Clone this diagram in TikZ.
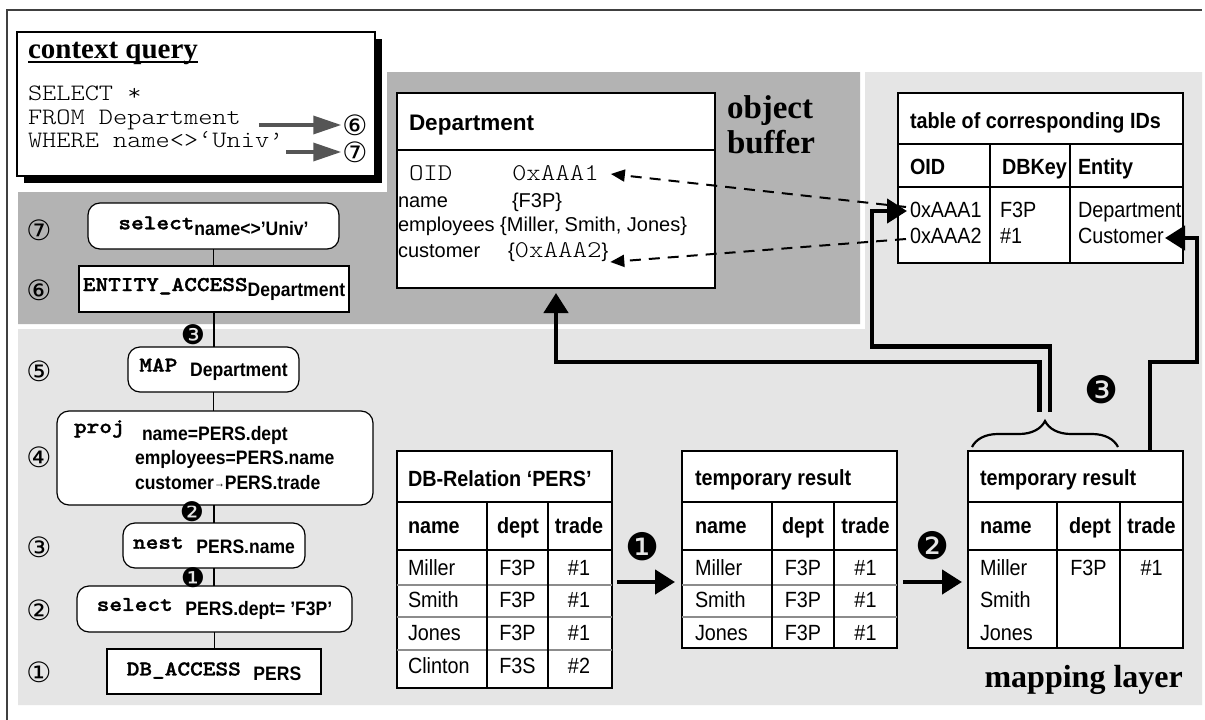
\documentclass[tikz,border=0pt]{standalone}
\usepackage{fontspec}
\usetikzlibrary{arrows.meta,decorations.pathreplacing,calc}
\newfontfamily\hv{Liberation Sans}
\newfontfamily\hvn[FakeStretch=0.9]{Liberation Sans}
\newfontfamily\tms{Liberation Serif}
\newfontfamily\cour[FakeStretch=1.15,BoldFont=lmmonolt10-bold.otf,BoldFeatures={FakeBold=1.5}]{lmmonolt10-regular.otf}
\newfontfamily\dv{DejaVu Sans}
\newcommand\fsz[1]{\fontsize{#1}{#1}\selectfont}
\definecolor{lgray}{HTML}{E5E5E5}
\definecolor{dgray}{HTML}{B3B3B3}
\definecolor{agray}{HTML}{555555}
\begin{document}
\begin{tikzpicture}[x=1pt,y=-1pt,
  t/.style={inner sep=0pt, outer sep=0pt, anchor=base west},
  tc/.style={inner sep=0pt, outer sep=0pt, anchor=base},
  frm/.style={draw, line width=1.3pt, fill=white, inner sep=0pt, outer sep=0pt, anchor=north west},
  opbox/.style={draw, line width=1.2pt, fill=white, inner sep=0pt, outer sep=0pt, rounded corners=12pt},
  rectbox/.style={draw, line width=1.2pt, fill=white, inner sep=0pt, outer sep=0pt},
  link/.style={line width=1.2pt},
  rowln/.style={line width=1.2pt, black!45},
  colln/.style={line width=1.2pt},
  fat/.style={line width=4.5pt, -{Triangle[length=20pt,width=24pt]}},
  dsh/.style={line width=2pt, dash pattern=on 11pt off 8pt, -{Triangle[length=14pt,width=12pt]}},
  qarr/.style={line width=3.5pt, agray, -{Triangle[length=28pt,width=18pt]}},
  num/.style={inner sep=0pt, font=\dv\fsz{28}},
  bnum/.style={inner sep=0pt, font=\dv\fsz{27}},
  bignum/.style={inner sep=0pt, font=\dv\fsz{38}},
  tb/.style={font=\hvn\bfseries\fsz{22}},
  tr/.style={font=\hvn\fsz{22}},
]
\useasboundingbox (0,0) rectangle (1205,720);
\fill[white] (0,0) rectangle (1205,720);
% layers
\fill[lgray] (18,329) -- (865,329) -- (865,72) -- (1202,72) -- (1202,705) -- (18,705) -- cycle;
\fill[dgray] (18,192) -- (387,192) -- (387,72) -- (860,72) -- (860,324) -- (18,324) -- cycle;
\draw[line width=1.3pt, black!75] (7,725) -- (7,10) -- (1202,10);

% context query
\fill[black] (24,39) rectangle (382,183);
\node[frm, minimum width=358pt, minimum height=144pt] (ctx) at (17,32) {};
\node[t] (ctitle) at (28,58) {\tms\bfseries\fsz{29}context query};
\draw[line width=1.3pt] ([yshift=-4pt]ctitle.base west) -- ([yshift=-4pt]ctitle.base east);
\node[t] (q1) at (28,100) {\cour\fsz{23.5}SELECT *};
\node[t] (q2) at (28,124) {\cour\fsz{23.5}FROM Department};
\node[t] (q3) at (28,147) {\cour\fsz{23.5}WHERE name<>‘Univ’};
\node[num] (c6) at (355,125) {⑥};
\node[num] (c7) at (355,152) {⑦};
\draw[qarr, shorten >=1pt] ([xshift=18pt,yshift=-1pt]q2.base east) -- (c6.west);
\draw[qarr, shorten >=1pt] ([xshift=3pt,yshift=-5pt]q3.base east) -- (c7.west);

% operator tree
\node[opbox, minimum width=251pt, minimum height=46pt] (sel1) at (213.5,226) {\cour\bfseries\fsz{21}select\raisebox{-6pt}{\hvn\bfseries\fsz{19.5}name<>’Univ’}};
\node[rectbox, minimum width=270pt, minimum height=46pt] (ent) at (214,289) {\cour\bfseries\fsz{21}ENTITY\_ACCESS\raisebox{-5pt}{\hvn\bfseries\fsz{19.5}Department}};
\node[opbox, minimum width=171pt, minimum height=45pt] (map) at (213.5,369.5) {\cour\bfseries\fsz{21}MAP \raisebox{-5pt}{\hvn\bfseries\fsz{19.5}Department}};
\node[opbox, minimum width=316pt, minimum height=94pt] (proj) at (215,458) {};
\node[t] (projk) at (74,433) {\cour\bfseries\fsz{21}proj};
\node[t] (pj1) at (142,440) {\hvn\bfseries\fsz{19.5}name=PERS.dept};
\node[t] (pj2) at (135,464) {\hvn\bfseries\fsz{19.5}employees=PERS.name};
\node[t] (pj3) at (135,489) {\hvn\bfseries\fsz{19.5}customer\raisebox{2pt}{\fsz{12}→}PERS.trade};
\node[opbox, minimum width=182pt, minimum height=45pt] (nest) at (214,545.5) {\cour\bfseries\fsz{21}nest \raisebox{-5pt}{\hvn\bfseries\fsz{19.5}PERS.name}};
\node[opbox, minimum width=275pt, minimum height=46pt] (sel2) at (214.5,609) {\cour\bfseries\fsz{21}select \raisebox{-5pt}{\hvn\bfseries\fsz{19.5}PERS.dept= ’F3P’}};
\node[rectbox, minimum width=214pt, minimum height=45pt] (dba) at (214,671.5) {\cour\bfseries\fsz{21}DB\_ACCESS \raisebox{-5pt}{\hvn\bfseries\fsz{19.5}PERS}};
\draw[link] (sel1.south) -- (sel1.south |- ent.north);
\draw[link] (ent.south) -- (ent.south |- map.north);
\draw[link] (map.south) -- (map.south |- proj.north);
\draw[link] (nest.north |- proj.south) -- (nest.north);
\draw[link] (nest.south) -- (nest.south |- sel2.north);
\draw[link] (sel2.south) -- (sel2.south |- dba.north);
\node[num] (n7) at (39,230) {⑦};
\node[num] (n6) at (39,290) {⑥};
\node[num] (n5) at (39,371) {⑤};
\node[num] (n4) at (39,457) {④};
\node[num] (n3) at (39,547) {③};
\node[num] (n2) at (39,610) {②};
\node[num] (n1) at (39,672) {①};
\node[bnum] (b3) at (193,335) {❸};
\node[bnum] (b2) at (192,512) {❷};
\node[bnum] (b1) at (193,578) {❶};

% object buffer
\node[frm, minimum width=318pt, minimum height=195pt] (dep) at (397,93) {};
\draw[colln] (dep.west |- 0,150) -- (dep.east |- 0,150);
\node[t] (dh) at (409,130) {\hv\bfseries\fsz{22.5}Department};
\node[t] (d1a) at (409,180) {\cour\fsz{24}OID};
\node[t] (d1b) at (512,180) {\cour\fsz{24}0xAAA1};
\node[t] (d2a) at (398,207) {\hv\fsz{20}name};
\node[t] (d2b) at (512,207) {\hv\fsz{20}\{F3P\}};
\node[t] (d3) at (398,231) {\hv\fsz{20}employees \{Miller, Smith, Jones\}};
\node[t] (d4a) at (398,257) {\hv\fsz{20}customer};
\node[t] (d4b) at (508,257) {\hv\fsz{20}\{{\cour\fsz{24}0xAAA2}\}};
\node[t] (ob1) at (727,118) {\tms\bfseries\fsz{33}object};
\node[t] (ob2) at (727,153) {\tms\bfseries\fsz{33}buffer};

% table of IDs
\node[frm, minimum width=285pt, minimum height=170pt] (ids) at (898,93) {};
\draw[colln] (ids.west |- 0,144) -- (ids.east |- 0,144);
\draw[colln] (ids.west |- 0,187) -- (ids.east |- 0,187);
\draw[colln] (990,144) -- (990,263);
\draw[colln] (1070,144) -- (1070,263);
\node[t, tb] (idt) at (910,128) {table of corresponding IDs};
\node[t, tb] (idh1) at (910,174) {OID};
\node[t, tb] (idh2) at (1002,174) {DBKey};
\node[t, tb] (idh3) at (1078,174) {Entity};
\node[t, tr] (id1) at (910,217) {0xAAA1};
\node[t, tr] (id2) at (910,243) {0xAAA2};
\node[t, tr] (idk1) at (1000,217) {F3P};
\node[t, tr] (idk2) at (1000,243) {\#1};
\node[t, tr] (ide1) at (1078,217) {Department};
\node[t, tr] (ide2) at (1078,243) {Customer};

% dashed links
\coordinate (dA) at (906,207);
\coordinate (dB) at (906,239);
\draw[dsh, shorten >=12pt] (dA) -- (d1b.east);
\draw[dsh] (dB) -- ([xshift=2pt,yshift=-5pt]d4b.base east);

% tables
\node[frm, minimum width=215pt, minimum height=237pt] (pers) at (397,451) {};
\draw[rowln] (397,585) -- (612,585);
\draw[rowln] (397,617) -- (612,617);
\draw[rowln] (397,650) -- (612,650);
\draw[colln] (397,502) -- (612,502);
\draw[colln] (397,550) -- (612,550);
\draw[colln] (487,502) -- (487,688);
\draw[colln] (548,502) -- (548,688);
\node[t, tb] (pt) at (408,486) {DB-Relation ‘PERS’};
\node[t, tb] (ph1) at (408,533) {name};
\node[tc, tb] (ph2) at (518,533) {dept};
\node[tc, tb] (ph3) at (579,533) {trade};
\node[t, tr] at (408,575) {Miller};
\node[t, tr] at (408,607) {Smith};
\node[t, tr] at (408,640) {Jones};
\node[t, tr] at (408,673) {Clinton};
\node[tc, tr] at (517.5,575) {F3P};
\node[tc, tr] at (517.5,607) {F3P};
\node[tc, tr] at (517.5,640) {F3P};
\node[tc, tr] at (517.5,673) {F3S};
\node[tc, tr] at (579,575) {\#1};
\node[tc, tr] at (579,607) {\#1};
\node[tc, tr] at (579,640) {\#1};
\node[tc, tr] at (579,673) {\#2};

\node[frm, minimum width=215pt, minimum height=197pt] (tmp1) at (682,451) {};
\draw[rowln] (682,585) -- (897,585);
\draw[rowln] (682,617) -- (897,617);
\draw[colln] (682,502) -- (897,502);
\draw[colln] (682,550) -- (897,550);
\draw[colln] (772,502) -- (772,648);
\draw[colln] (834,502) -- (834,648);
\node[t, tb] (t1t) at (695,485) {temporary result};
\node[t, tb] at (695,533) {name};
\node[tc, tb] at (803,533) {dept};
\node[tc, tb] at (865.5,533) {trade};
\node[t, tr] at (695,575) {Miller};
\node[t, tr] at (695,607) {Smith};
\node[t, tr] at (695,640) {Jones};
\node[tc, tr] at (803,575) {F3P};
\node[tc, tr] at (803,607) {F3P};
\node[tc, tr] at (803,640) {F3P};
\node[tc, tr] at (865.5,575) {\#1};
\node[tc, tr] at (865.5,607) {\#1};
\node[tc, tr] at (865.5,640) {\#1};

\node[frm, minimum width=215pt, minimum height=197pt] (tmp2) at (968,451) {};
\draw[colln] (968,502) -- (1183,502);
\draw[colln] (968,550) -- (1183,550);
\draw[colln] (1057,502) -- (1057,648);
\draw[colln] (1120,502) -- (1120,648);
\node[t, tb] (t2t) at (980,485) {temporary result};
\node[t, tb] at (980,533) {name};
\node[tc, tb] at (1090,533) {dept};
\node[tc, tb] at (1151.5,533) {trade};
\node[t, tr] at (980,575) {Miller};
\node[t, tr] at (980,607) {Smith};
\node[t, tr] at (980,640) {Jones};
\node[tc, tr] at (1088.5,575) {F3P};
\node[tc, tr] at (1151.5,575) {\#1};

% flow arrows between tables
\coordinate (a12) at (0,582);
\draw[fat, shorten <=5pt, shorten >=7pt] (pers.east |- a12) -- (tmp1.west |- a12);
\draw[fat, shorten <=6pt, shorten >=6pt] (tmp1.east |- a12) -- (tmp2.west |- a12);
\node[bignum] (l1) at (643,547) {❶};
\node[bignum] (l2) at (933,546) {❷};

% brace and back arrows
\draw[line width=2.2pt, decorate, decoration={brace, amplitude=26pt}] (972,447) -- (1118,447);
\coordinate (brL) at (1039.5,412);
\coordinate (brR) at (1050,412);
\coordinate (yA) at (0,362);
\draw[fat, shorten >=5pt] (brL) -- (brL |- yA) -| (dep.south);
\coordinate (turnB) at (872,346.5);
\coordinate (tipB) at (907,211);
\draw[fat] (brR) |- (turnB) |- (tipB);
\coordinate (turnC) at (1197,362);
\coordinate (tipC) at (1165,238);
\draw[fat] ([xshift=74.5pt]tmp2.north) |- (turnC) |- (tipC);
\node[bignum] (l3) at (1102,390) {❸};

\node[anchor=base east, inner sep=0pt] (ml) at (1183,687) {\tms\bfseries\fsz{32}mapping layer};
\end{tikzpicture}
\end{document}
